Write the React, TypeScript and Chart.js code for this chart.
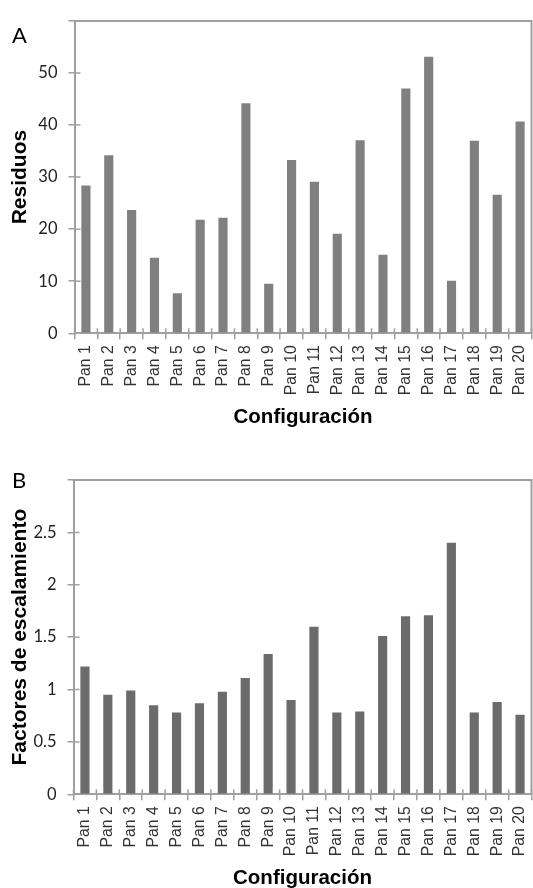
import React, { useEffect, useRef } from "react";
import { Chart, registerables } from "chart.js";

Chart.register(...registerables);

// ---------- data ----------
const categories = [
  "Pan 1", "Pan 2", "Pan 3", "Pan 4", "Pan 5", "Pan 6", "Pan 7", "Pan 8", "Pan 9", "Pan 10",
  "Pan 11", "Pan 12", "Pan 13", "Pan 14", "Pan 15", "Pan 16", "Pan 17", "Pan 18", "Pan 19", "Pan 20",
];
const residuos = [28.4, 34.2, 23.7, 14.5, 7.7, 21.8, 22.2, 44.2, 9.5, 33.3, 29.1, 19.1, 37.1, 15.1, 47.0, 53.1, 10.1, 37.0, 26.6, 40.7];
const factores = [1.22, 0.95, 0.99, 0.85, 0.78, 0.87, 0.98, 1.11, 1.34, 0.9, 1.6, 0.78, 0.79, 1.51, 1.7, 1.71, 2.4, 0.78, 0.88, 0.76];

const residuosAxis = { min: 0, max: 60, step: 10 };
const factoresAxis = { min: 0, max: 3, step: 0.5 };

const xTitle = "Configuración";
const titleA = "Residuos";
const titleB = "Factores de escalamiento";
const panelLetters = ["A", "B"];

// ---------- styles ----------
const AXIS = "#a0a0a0";
const BAR_A = "#808080";
const BAR_B = "#6b6b6b";

const framePlugin = {
  id: "frame",
  afterDraw(chart: any) {
    const { ctx, chartArea, scales } = chart;
    const { left, right, top, bottom } = chartArea;
    const x = scales.x;
    const y = scales.y;
    ctx.save();
    ctx.strokeStyle = AXIS;
    ctx.lineWidth = 2;
    ctx.beginPath();
    ctx.moveTo(left - 1, top);
    ctx.lineTo(right, top);
    ctx.lineTo(right, bottom);
    ctx.stroke();
    ctx.lineWidth = 1.5;
    ctx.beginPath();
    y.ticks.forEach((t: any) => {
      const py = y.getPixelForValue(t.value);
      ctx.moveTo(left, py);
      ctx.lineTo(left + 6, py);
    });
    for (let i = 0; i <= x.ticks.length; i++) {
      const px = x.getPixelForValue(i - 0.5);
      ctx.moveTo(px, bottom);
      ctx.lineTo(px, bottom - 5);
    }
    ctx.stroke();
    ctx.restore();
  },
};

type PanelProps = {
  values: number[];
  yTitle: string;
  axis: { min: number; max: number; step: number };
  color: string;
  top: number;
  height: number;
  padTop: number;
  yWidth: number;
  xHeight: number;
  titlePadBottom: number;
};

function Panel(p: PanelProps) {
  const ref = useRef<HTMLCanvasElement>(null);
  useEffect(() => {
    if (!ref.current) return;
    const chart = new Chart(ref.current, {
      type: "bar",
      data: {
        labels: categories,
        datasets: [
          {
            data: p.values,
            backgroundColor: p.color,
            borderWidth: 0,
            barPercentage: 0.4,
            categoryPercentage: 1,
          },
        ],
      },
      options: {
        animation: false,
        responsive: false,
        maintainAspectRatio: false,
        layout: { padding: { top: p.padTop, left: 0, right: 1.5, bottom: 0 } },
        plugins: { legend: { display: false }, tooltip: { enabled: false } },
        scales: {
          x: {
            grid: { display: true, drawOnChartArea: false, drawTicks: true, tickLength: 6, color: AXIS, lineWidth: 1.5, offset: true },
            border: { display: true, color: AXIS, width: 2 },
            ticks: {
              autoSkip: false,
              maxRotation: 90,
              minRotation: 90,
              padding: 6,
              color: "#333",
              font: { family: "Liberation Sans", size: 15.8 },
            },
            title: {
              display: true,
              text: xTitle,
              color: "#000",
              font: { family: "Liberation Sans", size: 20.5, weight: "bold" },
              padding: { top: 0, bottom: p.titlePadBottom },
            },
            afterFit: (s: any) => {
              s.height = p.xHeight;
              s.paddingLeft = 0;
              s.paddingRight = 0;
            },
          },
          y: {
            min: p.axis.min,
            max: p.axis.max,
            grid: { display: true, drawOnChartArea: false, drawTicks: true, tickLength: 6, color: AXIS, lineWidth: 1.5 },
            border: { display: true, color: AXIS, width: 2 },
            ticks: {
              stepSize: p.axis.step,
              padding: 11,
              color: "#222",
              font: { family: "Lato", size: 16.5 },
              callback: (v: any) => (Number(v) === p.axis.max ? "" : String(Number(v))),
            },
            title: {
              display: true,
              text: p.yTitle,
              color: "#000",
              font: { family: "Liberation Sans", size: 21, weight: "bold" },
              padding: { top: 8, bottom: 0 },
            },
            afterFit: (s: any) => {
              s.width = p.yWidth;
            },
          },
        },
      } as any,
      plugins: [framePlugin],
    });
    return () => chart.destroy();
  }, []);
  return (
    <canvas
      ref={ref}
      width={533}
      height={p.height}
      style={{ position: "absolute", left: 0, top: p.top, width: 533, height: p.height }}
    />
  );
}

const letterStyle: React.CSSProperties = {
  position: "absolute",
  left: 12,
  fontFamily: "Lato",
  fontSize: 22,
  color: "#000",
  lineHeight: "normal",
};

export default function App() {
  return (
    <div style={{ position: "fixed", left: 0, top: 0, width: 533, height: 888, overflow: "hidden", background: "#fff" }}>
      <Panel values={residuos} yTitle={titleA} axis={residuosAxis} color={BAR_A} top={0} height={444} padTop={14} yWidth={74.5} xHeight={110.7} titlePadBottom={14} />
      <Panel values={factores} yTitle={titleB} axis={factoresAxis} color={BAR_B} top={444} height={460} padTop={36} yWidth={73.5} xHeight={109.7} titlePadBottom={13} />
      <div style={{ ...letterStyle, top: 21 }}>{panelLetters[0]}</div>
      <div style={{ ...letterStyle, top: 466 }}>{panelLetters[1]}</div>
    </div>
  );
}
